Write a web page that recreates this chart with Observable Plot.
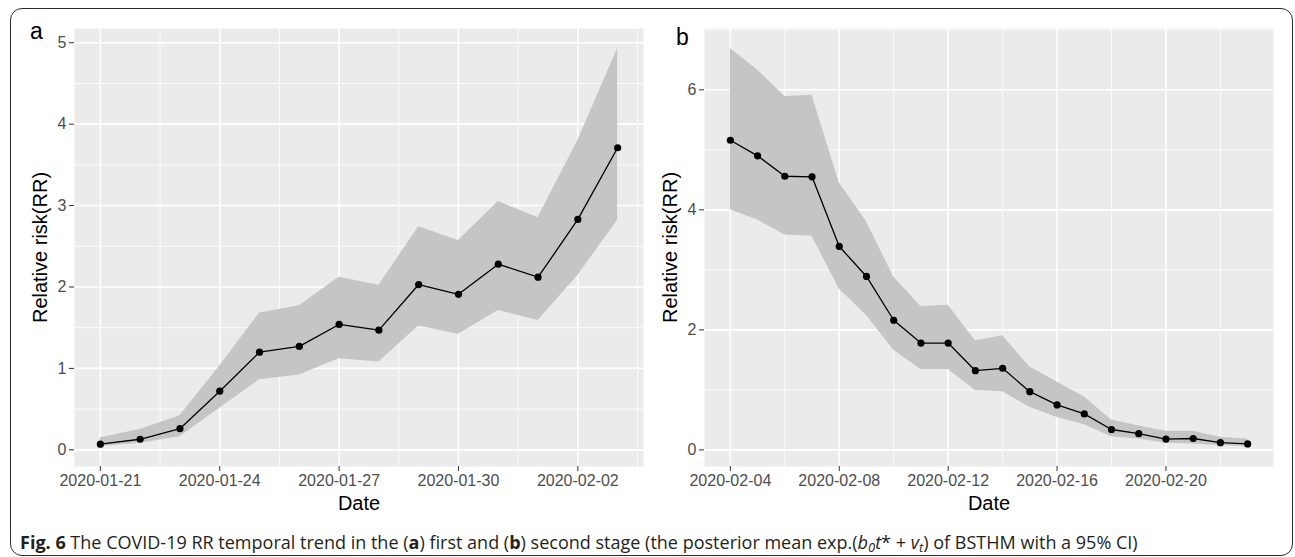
<!DOCTYPE html>
<html>
<head>
<meta charset="utf-8">
<script src="https://cdn.jsdelivr.net/npm/d3@7"></script>
<script src="https://cdn.jsdelivr.net/npm/@observablehq/plot@0.6"></script>
<style>
  html, body { margin: 0; padding: 0; background: #fff; }
  #fig { position: relative; width: 1295px; height: 557px; overflow: hidden; background: #fff; }
  #border { position: absolute; left: 10px; top: 8px; width: 1281px; height: 546px; border: 1.5px solid #2b2b2b; border-radius: 12px; }
  .panel { position: absolute; top: 0; }
  #caption { position: absolute; left: 20px; top: 532px; font-family: "Open Sans", Lato, sans-serif; font-size: 16px; line-height: 20px; color: #231f20; white-space: nowrap; }
  .sub { font-size: 0.72em; vertical-align: -0.25em; line-height: 0; }
</style>
</head>
<body>
<div id="fig">
  <div id="border"></div>
  <div id="panelA" class="panel" style="left:0px"></div>
  <div id="panelB" class="panel" style="left:650px"></div>
  <div id="caption"><b>Fig. 6</b> The COVID-19 RR temporal trend in the (<b>a</b>) first and (<b>b</b>) second stage (the posterior mean exp.(<i>b<span class="sub">0</span>t</i>* + <i>v<span class="sub">t</span></i>) of BSTHM with a 95% CI)</div>
</div>
<script>
// ---- Panel a: first stage ----
const datesA = ["2020-01-21","2020-01-22","2020-01-23","2020-01-24","2020-01-25","2020-01-26","2020-01-27",
                "2020-01-28","2020-01-29","2020-01-30","2020-01-31","2020-02-01","2020-02-02","2020-02-03"];
const rrA  = [0.07, 0.13, 0.26, 0.72, 1.20, 1.27, 1.54, 1.47, 2.03, 1.91, 2.28, 2.12, 2.83, 3.71];
const lowA = [0.04, 0.08, 0.16, 0.51, 0.86, 0.92, 1.12, 1.08, 1.52, 1.42, 1.71, 1.59, 2.14, 2.82];
const upA  = [0.15, 0.25, 0.42, 1.03, 1.68, 1.77, 2.12, 2.02, 2.74, 2.57, 3.05, 2.85, 3.80, 4.93];
const xTicksA = ["2020-01-21","2020-01-24","2020-01-27","2020-01-30","2020-02-02"];
const yTicksA = [0, 1, 2, 3, 4, 5];

// ---- Panel b: second stage ----
const datesB = ["2020-02-04","2020-02-05","2020-02-06","2020-02-07","2020-02-08","2020-02-09","2020-02-10",
                "2020-02-11","2020-02-12","2020-02-13","2020-02-14","2020-02-15","2020-02-16","2020-02-17",
                "2020-02-18","2020-02-19","2020-02-20","2020-02-21","2020-02-22","2020-02-23"];
const rrB  = [5.16, 4.90, 4.56, 4.55, 3.39, 2.89, 2.16, 1.78, 1.78, 1.32, 1.36, 0.97, 0.75, 0.60, 0.34, 0.27, 0.18, 0.19, 0.12, 0.10];
const lowB = [4.00, 3.83, 3.58, 3.56, 2.68, 2.24, 1.66, 1.34, 1.34, 0.99, 0.97, 0.71, 0.54, 0.42, 0.22, 0.18, 0.11, 0.10, 0.07, 0.055];
const upB  = [6.69, 6.33, 5.89, 5.91, 4.45, 3.80, 2.88, 2.39, 2.41, 1.82, 1.90, 1.38, 1.13, 0.88, 0.50, 0.40, 0.31, 0.31, 0.21, 0.18];
const xTicksB = ["2020-02-04","2020-02-08","2020-02-12","2020-02-16","2020-02-20"];
const yTicksB = [0, 2, 4, 6];

const yLabel = "Relative risk(RR)";
const xLabel = "Date";

const parse = s => new Date(s + "T00:00:00Z");
const fmt = d3.utcFormat("%Y-%m-%d");

function expand([a, b], f = 0.05) { const p = (b - a) * f; return [a - p, b + p]; }

function panel({dates, rr, low, up, xTicks, yTicks, tag, width, height, margins, tagDx, tagDy}) {
  const data = dates.map((d, i) => ({date: parse(d), rr: rr[i], low: low[i], up: up[i]}));
  const t = data.map(d => +d.date);
  const [x0, x1] = expand([d3.min(t), d3.max(t)]);
  const [y0, y1] = expand([d3.min(low), d3.max(up)]);
  const xt = xTicks.map(parse);
  const xtNum = xt.map(Number);
  const step = xtNum[1] - xtNum[0];
  const xMinor = [];
  for (let v = xtNum[0] - 10 * step - step / 2; v <= x1; v += step) if (v >= x0) xMinor.push(new Date(v));
  const ystep = yTicks[1] - yTicks[0];
  const yMinor = [];
  for (let v = yTicks[0] - ystep / 2; v <= y1; v += ystep) if (v >= y0) yMinor.push(v);
  const xMajor = [];
  for (let v = xtNum[0] - 10 * step; v <= x1; v += step) if (v >= x0) xMajor.push(new Date(v));
  const yMajor = [];
  for (let v = yTicks[0] - 10 * ystep; v <= y1; v += ystep) if (v >= y0) yMajor.push(v);

  return Plot.plot({
    width, height,
    marginLeft: margins[0], marginRight: margins[1], marginTop: margins[2], marginBottom: margins[3],
    style: {fontFamily: "'Liberation Sans', Arial, sans-serif", fontSize: "16px", background: "transparent", overflow: "visible"},
    x: {type: "utc", domain: [new Date(x0), new Date(x1)]},
    y: {domain: [y0, y1]},
    marks: [
      Plot.frame({fill: "#ebebeb", stroke: null}),
      Plot.ruleX(xMinor, {stroke: "#fff", strokeWidth: 0.8}),
      Plot.ruleY(yMinor, {stroke: "#fff", strokeWidth: 0.8}),
      Plot.ruleX(xMajor, {stroke: "#fff", strokeWidth: 1.6}),
      Plot.ruleY(yMajor, {stroke: "#fff", strokeWidth: 1.6}),
      Plot.areaY(data, {x: "date", y1: "low", y2: "up", fill: "#c5c5c5"}),
      Plot.lineY(data, {x: "date", y: "rr", stroke: "#000", strokeWidth: 1.3}),
      Plot.dot(data, {x: "date", y: "rr", r: 3.6, fill: "#000", stroke: null}),
      Plot.axisX({ticks: xt, tickFormat: fmt, tickSize: 5, tickPadding: 3, fill: "#4d4d4d", stroke: "#333", label: null, fontSize: 16}),
      Plot.axisY({ticks: yTicks, tickFormat: d => String(d), tickSize: 5, tickPadding: 3, fill: "#4d4d4d", stroke: "#333", label: null, fontSize: 16}),
      Plot.text([xLabel], {frameAnchor: "bottom", dy: 37, lineAnchor: "middle", textAnchor: "middle", fontSize: 20, fill: "#000"}),
      Plot.text([yLabel], {frameAnchor: "left", dx: -34, rotate: -90, lineAnchor: "middle", textAnchor: "middle", fontSize: 20, fill: "#000"}),
      Plot.text([tag], {frameAnchor: "top-left", dx: tagDx, dy: tagDy, lineAnchor: "middle", textAnchor: "middle", fontSize: 23, fill: "#000"})
    ]
  });
}

document.getElementById("panelA").append(panel({
  dates: datesA, rr: rrA, low: lowA, up: upA, xTicks: xTicksA, yTicks: yTicksA, tag: "a",
  width: 650, height: 520, margins: [74, 7, 28, 54], tagDx: -38, tagDy: 3
}));
document.getElementById("panelB").append(panel({
  dates: datesB, rr: rrB, low: lowB, up: upB, xTicks: xTicksB, yTicks: yTicksB, tag: "b",
  width: 645, height: 520, margins: [54, 22, 28, 54], tagDx: -22, tagDy: 9
}));

// fit caption width to the reference (about 1118 px)
const cap = document.getElementById("caption");
const w = cap.getBoundingClientRect().width;
if (w > 0) cap.style.fontSize = (16 * 1118 / w).toFixed(2) + "px";
</script>
</body>
</html>
